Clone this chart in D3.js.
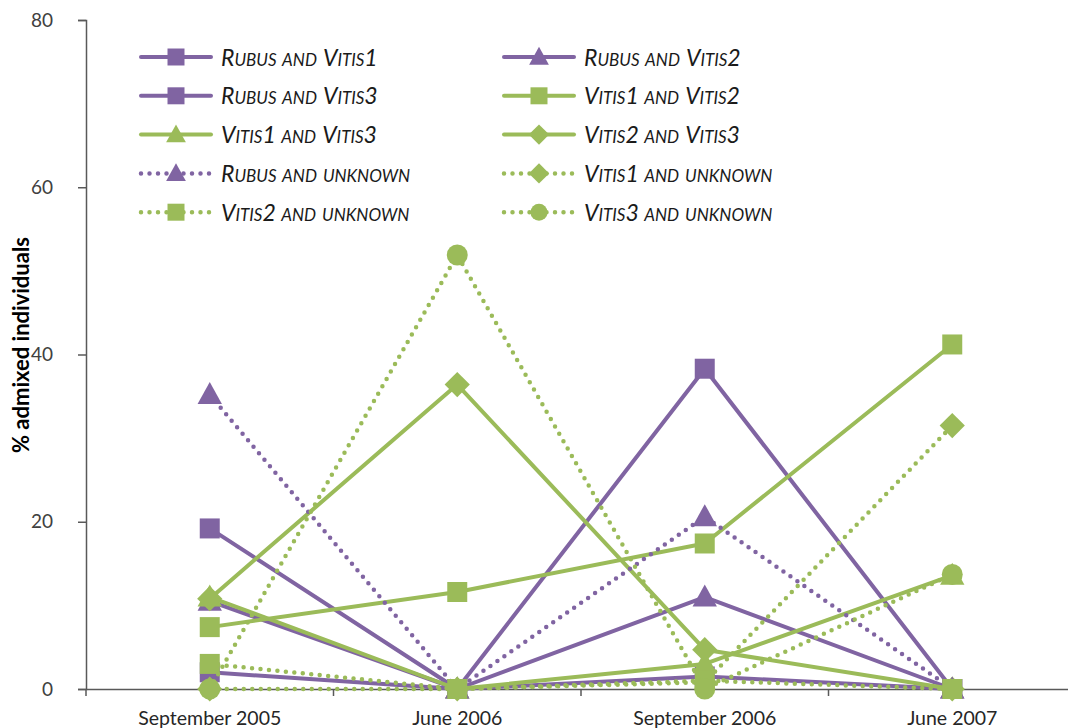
<!DOCTYPE html>
<html><head><meta charset="utf-8">
<script src="https://cdn.jsdelivr.net/npm/d3@7"></script>
<style>
body{margin:0;background:#fff;}
svg{display:block;}
</style></head>
<body>
<svg id="chart" width="1068" height="728"></svg>
<script>
const categories = ["September 2005", "June 2006", "September 2006", "June 2007"];
const yTicks = [0, 20, 40, 60, 80];
const seriesNames = ["Rubus and Vitis1","Rubus and Vitis2","Rubus and Vitis3","Vitis1 and Vitis2","Vitis1 and Vitis3","Vitis2 and Vitis3","Rubus and unknown","Vitis1 and unknown","Vitis2 and unknown","Vitis3 and unknown"];
const rubusVitis1 = [2.0, 0, 1.5, 0];
const rubusVitis2 = [10.5, 0, 11.0, 0];
const rubusVitis3 = [19.2, 0, 38.3, 0];
const vitis1Vitis2 = [7.4, 11.6, 17.4, 41.2];
const vitis1Vitis3 = [11.0, 0, 3.0, 13.6];
const vitis2Vitis3 = [10.8, 36.4, 4.7, 0];
const rubusUnknown = [35.2, 0, 20.6, 0];
const vitis1Unknown = [0, 0, 0.8, 31.5];
const vitis2Unknown = [3.0, 0, 1.0, 0];
const vitis3Unknown = [0, 51.9, 0, 13.7];
const seriesValues = [rubusVitis1, rubusVitis2, rubusVitis3, vitis1Vitis2, vitis1Vitis3, vitis2Vitis3, rubusUnknown, vitis1Unknown, vitis2Unknown, vitis3Unknown];
const seriesColor = ["purple","purple","purple","green","green","green","purple","green","green","green"];
const seriesMarker = ["square","triangle","square","square","triangle","diamond","triangle","diamond","square","circle"];
const seriesDotted = [false,false,false,false,false,false,true,true,true,true];

const colors = {purple:"#8064A2", green:"#9BBB59"};
const svg = d3.select("#chart");
const mLeft = 86, mRight = 1076, mTop = 20, mBottom = 689;
const font = "Lato, 'Open Sans', sans-serif";

const x = d3.scaleBand().domain(categories).range([mLeft, mRight]);
const y = d3.scaleLinear().domain([0, 80]).range([mBottom, mTop]);
const cx = c => x(c) + x.bandwidth()/2;

const axisColor = "#595959";

// Y axis
const yAxis = svg.append("g").attr("transform", `translate(${mLeft},0)`)
  .call(d3.axisLeft(y).tickValues(yTicks).tickSize(8).tickPadding(25));
yAxis.select(".domain").attr("stroke", axisColor).attr("stroke-width", 1.5);
yAxis.selectAll(".tick line").attr("stroke", axisColor).attr("stroke-width", 1.5);
yAxis.selectAll(".tick text").attr("fill", "#404040").style("font-family", font).style("font-size", "19px");

// X axis line and tick marks at boundaries
const xAxis = svg.append("g").attr("transform", `translate(0,${mBottom})`)
  .call(d3.axisBottom(x).tickSize(0).tickPadding(22));
xAxis.select(".domain").attr("stroke", axisColor).attr("stroke-width", 1.5);
xAxis.selectAll(".tick text").attr("fill", "#262626").style("font-family", font).style("font-size", "19.5px");
const boundaries = d3.range(categories.length + 1).map(i => mLeft + i * x.step());
svg.append("g").selectAll("line").data(boundaries).join("line")
  .attr("x1", d => d).attr("x2", d => d).attr("y1", mBottom).attr("y2", mBottom + 7)
  .attr("stroke", axisColor).attr("stroke-width", 1.5);

// Y label
svg.append("text")
  .attr("transform", `translate(29,345) rotate(-90)`)
  .attr("text-anchor", "middle")
  .style("font-family", font).style("font-size", "22px").style("font-weight", "bold")
  .attr("fill", "#000")
  .text("% admixed individuals");

function markerPath(type, size) {
  const s = size;
  if (type === "square") return `M${-s/2},${-s/2}h${s}v${s}h${-s}Z`;
  if (type === "triangle") return `M0,${-s*0.6}L${s*0.58},${s*0.45}L${-s*0.58},${s*0.45}Z`;
  if (type === "diamond") return `M0,${-s*0.6}L${s*0.6},0L0,${s*0.6}L${-s*0.6},0Z`;
  if (type === "circle") { const r = s/2; return `M${r},0A${r},${r} 0 1,1 ${-r},0A${r},${r} 0 1,1 ${r},0Z`; }
}

const line = d3.line().x(d => cx(d.c)).y(d => y(d.v));
seriesNames.forEach((name, i) => {
  const data = seriesValues[i].map((v, j) => ({c: categories[j], v}));
  const col = colors[seriesColor[i]];
  const g = svg.append("g");
  g.append("path").datum(data).attr("d", line)
    .attr("fill", "none").attr("stroke", col)
    .attr("stroke-width", seriesDotted[i] ? 4.5 : 4)
    .attr("stroke-linecap", "round").attr("stroke-linejoin", "round")
    .attr("stroke-dasharray", seriesDotted[i] ? "0,8.5" : null);
  g.selectAll(".m").data(data).join("path")
    .attr("transform", d => `translate(${cx(d.c)},${y(d.v)})`)
    .attr("d", markerPath(seriesMarker[i], seriesMarker[i] === "square" ? 20 : 21))
    .attr("fill", col);
});

// Split a label into runs of big (capitals/digits) and small (lowercase shown as small capitals)
function smallCapsRuns(text) {
  const runs = [];
  for (const ch of text) {
    const kind = ch === " " ? true : (ch !== ch.toUpperCase());
    if (runs.length && runs[runs.length-1].small === kind) runs[runs.length-1].t += ch;
    else runs.push({small: kind, t: ch});
  }
  return runs;
}

// Legend
const legend = svg.append("g");
const colX = [141, 504];
const rowY0 = 57, rowStep = 38.8;
seriesNames.forEach((name, i) => {
  const lx = colX[i % 2], ly = rowY0 + Math.floor(i/2) * rowStep;
  const col = colors[seriesColor[i]];
  const g = legend.append("g").attr("transform", `translate(${lx},${ly})`);
  g.append("line").attr("x1", 0).attr("x2", 70).attr("y1", 0).attr("y2", 0)
    .attr("stroke", col).attr("stroke-width", seriesDotted[i] ? 4.5 : 4)
    .attr("stroke-linecap", "round")
    .attr("stroke-dasharray", seriesDotted[i] ? "0,8.5" : null);
  g.append("path").attr("transform", "translate(35,0)")
    .attr("d", markerPath(seriesMarker[i], 17)).attr("fill", col);
  const t = g.append("text").attr("x", 80).attr("y", 8.5)
    .style("font-family", font).style("font-style", "italic")
    .style("white-space", "pre")
    .attr("fill", "#1a1a1a").attr("aria-label", name);
  smallCapsRuns(name).forEach(r => {
    t.append("tspan").style("font-size", r.small ? "17px" : "23px")
      .style("word-spacing", r.small ? "2px" : null)
      .text(r.small ? r.t.toUpperCase() : r.t);
  });
});
</script>
</body></html>
